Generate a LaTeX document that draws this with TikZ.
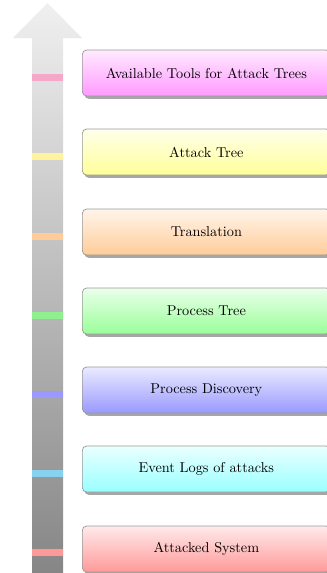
\documentclass[tikz,border=0pt]{standalone}
\usetikzlibrary{shadows}
\definecolor{mkpink}{HTML}{F4A8C8}
\definecolor{mkyellow}{HTML}{FFF3A0}
\definecolor{mkorange}{HTML}{FFCC99}
\definecolor{mkgreen}{HTML}{90F090}
\definecolor{mkblue}{HTML}{9999FF}
\definecolor{mkcyan}{HTML}{88D2F0}
\definecolor{mkred}{HTML}{FF9999}
\begin{document}
\begin{tikzpicture}[x=0.7pt,y=-0.7pt,
  stagebox/.style={draw=gray!80, rounded corners=3pt, anchor=west,
    minimum width=173.6pt, minimum height=32.2pt, line width=0.5pt,
    top color=#1!8, bottom color=#1!40,
    drop shadow={shadow xshift=1.5pt, shadow yshift=-2pt, fill=gray!70, opacity=1}},
  marker/.style={fill=#1}]
\useasboundingbox (0,0) rectangle (326,573);
% big arrow
\shade[top color=gray!12, bottom color=gray!95]
  (47.5,3) -- (82,38) -- (63,38) -- (63,573) -- (32,573) -- (32,38) -- (13,38) -- cycle;
% markers
\fill[mkpink]   (32,73.5) rectangle (63,80.5);
\fill[mkyellow] (32,152.5) rectangle (63,159.5);
\fill[mkorange] (32,232.5) rectangle (63,239.5);
\fill[mkgreen]  (32,311.5) rectangle (63,318.5);
\fill[mkblue]   (32,390.5) rectangle (63,397.5);
\fill[mkcyan]   (32,469.5) rectangle (63,476.5);
\fill[mkred]    (32,548.5) rectangle (63,555.5);
% boxes
\node[stagebox=magenta] (tools) at (82,73) {Available Tools for Attack Trees};
\node[stagebox=yellow]  (tree)  at (82,152) {Attack Tree};
\node[stagebox=orange]  (trans) at (82,232) {Translation};
\node[stagebox=green]   (ptree) at (82,311) {Process Tree};
\node[stagebox=blue]    (disc)  at (82,390) {Process Discovery};
\node[stagebox=cyan]    (logs)  at (82,469) {Event Logs of attacks};
\node[stagebox=red]     (sys)   at (82,549) {Attacked System};
\end{tikzpicture}
\end{document}
